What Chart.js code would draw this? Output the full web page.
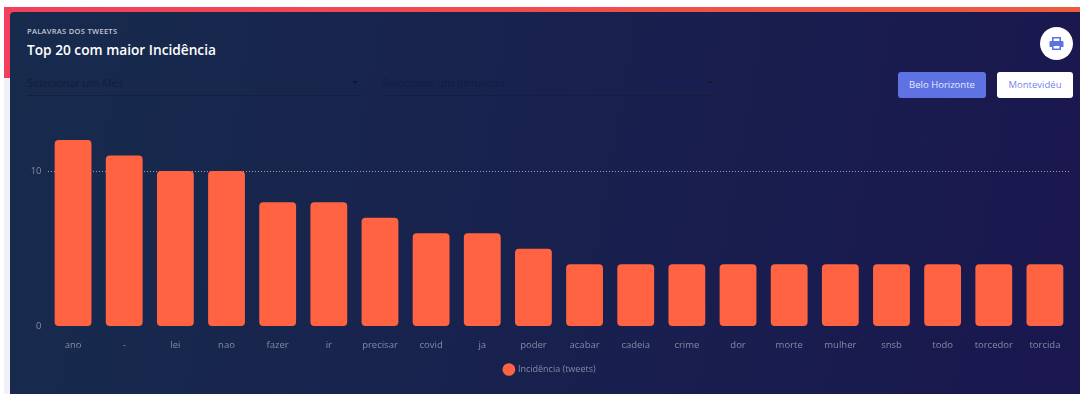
<!DOCTYPE html>
<html>
<head>
<meta charset="utf-8">
<title>Top 20 com maior Incidência</title>
<script src="https://cdn.jsdelivr.net/npm/chart.js@4"></script>
<style>
    html, body { margin: 0; padding: 0; width: 1080px; height: 394px; overflow: hidden; background: #fff; font-family: "Open Sans", sans-serif; }
    .side { position: absolute; left: 4px; top: 78px; width: 6px; height: 316px; background: #f1f1f8; }
    .band { position: absolute; left: 4px; top: 7px; width: 1076px; height: 71px; background: linear-gradient(90deg, #f43f5e, #ee5a3c); }
    .card { position: absolute; left: 10px; top: 12px; width: 1070px; height: 382px; border-radius: 4px 0 0 0; background: linear-gradient(100deg, #172b4d, #1a174f); }
    .sub { position: absolute; left: 27px; top: 26px; font-size: 7.5px; line-height: 11px; font-weight: 600; letter-spacing: .3px; color: #c5c9d4; }
    .title { position: absolute; left: 27px; top: 40px; font-size: 13.7px; line-height: 20px; font-weight: 600; color: #fff; }
    .select { position: absolute; top: 72px; height: 23px; border-bottom: 1px solid #131f3d; font-size: 10.9px; line-height: 21px; color: #0f1d42; }
    .select:after { content: ""; position: absolute; right: 3px; top: 9px; border: 3px solid transparent; border-top: 3px solid #10182f; border-left-width: 3.5px; border-right-width: 3.5px; }
    .btn { position: absolute; top: 72px; height: 26px; border-radius: 3px; font-size: 9.5px; line-height: 26px; font-weight: 500; text-align: center; }
    .print { position: absolute; left: 1040px; top: 27px; width: 33px; height: 33px; border-radius: 50%; background: #fff; }
    .print svg { position: absolute; left: 9px; top: 9px; }
    #wrap { position: absolute; left: 0; top: 120px; width: 1080px; height: 274px; }
</style>
</head>
<body>
<div class="side"></div>
<div class="band"></div>
<div class="card"></div>
<div class="sub">PALAVRAS DOS TWEETS</div>
<div class="title">Top 20 com maior Incidência</div>
<div class="select" style="left:27px;width:334px">Selecionar um Mês</div>
<div class="select" style="left:382px;width:334px">Selecionar um Jornalista</div>
<div class="print">
    <svg width="15" height="15" viewBox="0 0 15 15">
        <path fill="#5e72e4" d="M3 1h9v4h1.5a1 1 0 0 1 1 1v5h-2.5v3H3v-3H.5V6a1 1 0 0 1 1-1H3zM4.6 2.5V5h5.8V2.5zM4.6 10v2.5h5.8V10z"/>
    </svg>
</div>
<div class="btn" style="left:898px;width:88px;background:#5e72e4;color:#e6e9fb">Belo Horizonte</div>
<div class="btn" style="left:997px;width:76px;background:#fff;color:#7585ea">Montevidéu</div>
<div id="wrap"><canvas id="wordsChart"></canvas></div>

<script>
    // palavras mais frequentes nos tweets
    const categories = ['ano', '-', 'lei', 'nao', 'fazer', 'ir', 'precisar', 'covid', 'ja', 'poder',
        'acabar', 'cadeia', 'crime', 'dor', 'morte', 'mulher', 'snsb', 'todo', 'torcedor', 'torcida'];
    const incidencia = [12, 11, 10, 10, 8, 8, 7, 6, 6, 5, 4, 4, 4, 4, 4, 4, 4, 4, 4, 4];
    const yTicks = [0, 10];
    const seriesName = 'Incidência (tweets)';

    const textColor = '#828ba6';

    const ctx = document.getElementById('wordsChart').getContext('2d');
    new Chart(ctx, {
        type: 'bar',
        data: {
            labels: categories,
            datasets: [{
                label: seriesName,
                data: incidencia,
                backgroundColor: '#ff6341',
                borderRadius: 4,
                borderSkipped: false
            }]
        },
        options: {
            responsive: true,
            maintainAspectRatio: false,
            animation: false,
            // o padding esquerdo empurra a legenda para a direita
            layout: { padding: { top: 20, right: 9.5, bottom: 10, left: 29.5 } },
            plugins: {
                tooltip: { enabled: false },
                legend: {
                    position: 'bottom',
                    labels: {
                        color: textColor,
                        usePointStyle: true,
                        pointStyle: 'circle',
                        boxHeight: 9,
                        padding: 10,
                        font: { family: 'Open Sans', size: 9 }
                    }
                }
            },
            scales: {
                x: {
                    grid: { display: false },
                    border: { display: false },
                    ticks: { color: textColor, padding: 5, maxRotation: 0, autoSkip: false, font: { family: 'Open Sans', size: 9.5 } },
                    afterFit: (axis) => { axis.height = 28.5; }
                },
                y: {
                    min: 0,
                    max: 12,
                    afterBuildTicks: (axis) => { axis.ticks = yTicks.map(v => ({ value: v })); },
                    afterFit: (axis) => { axis.width = 18; },
                    border: { display: false, dash: [1, 2] },
                    grid: {
                        drawTicks: false,
                        color: (c) => c.tick.value === 0 ? 'transparent' : '#9aa2b8'
                    },
                    ticks: { color: textColor, padding: 6, font: { family: 'Open Sans', size: 9.5 } }
                }
            }
        }
    });
</script>
</body>
</html>
